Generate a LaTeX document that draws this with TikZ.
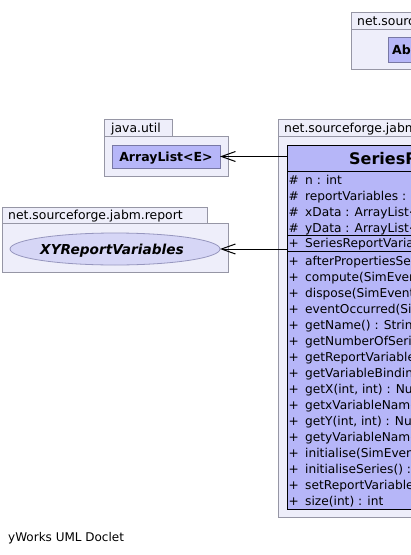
\documentclass[tikz,border=0pt]{standalone}
\usepackage{fontspec}
\setmainfont{DejaVu Sans}[ItalicFont={DejaVu Sans Oblique},BoldFont={DejaVu Sans Bold},BoldItalicFont={DejaVu Sans Bold Oblique}]
\usetikzlibrary{arrows.meta,shapes.geometric}
\definecolor{pkgfill}{RGB}{238,238,250}
\definecolor{pkgline}{RGB}{150,150,165}
\definecolor{clsfill}{RGB}{182,182,248}
\definecolor{boxline}{RGB}{120,120,165}
\definecolor{ellfill}{RGB}{214,214,246}
\definecolor{ellline}{RGB}{150,150,190}
\tikzset{
  pkgbox/.style={draw=pkgline, fill=pkgfill, line width=0.8pt, anchor=north west, inner sep=0pt, outer sep=0pt},
  pkglbl/.style={anchor=base west, inner sep=0pt, font=\fontsize{12.4}{14}\selectfont},
  refbox/.style={draw=boxline, fill=clsfill, line width=0.8pt, anchor=north west, inner sep=0pt, outer sep=0pt},
  clsbox/.style={draw=black, fill=clsfill, line width=0.9pt, anchor=north west, inner sep=0pt, outer sep=0pt},
  reftxt/.style={inner sep=0pt, font=\fontsize{12.5}{14}\selectfont\bfseries},
  memsym/.style={anchor=base west, inner sep=0pt, font=\fontsize{12.2}{14}\selectfont},
  memtxt/.style={anchor=base west, inner sep=0pt, font=\fontsize{12.2}{14}\selectfont},
  sepline/.style={draw=black, line width=0.9pt},
  assoc/.style={draw=black, line width=1pt, -{Straight Barb[length=14pt,width=10pt,line width=1pt]}}
}
\newcommand\mymem[4]{\node[memsym] (s#1) at (288.5,#2+4.3) {#3}; \node[memtxt] (t#1) at (305,#2+4.3) {#4};}
\begin{document}
\begin{tikzpicture}[x=1pt,y=-1pt]
\useasboundingbox (0,0) rectangle (411,555);
\clip (0,0) rectangle (411,555);
\fill[white] (0,0) rectangle (411,555);

% top package (clipped)
\node[pkgbox, minimum width=90pt, minimum height=17pt] (toptab) at (351,12) {};
\node[pkgbox, minimum width=120pt, minimum height=40pt] (topbody) at (351,29) {};
\node[pkglbl] (toplbl) at (357,25) {net.sourceforge.jabm.report};
\node[refbox, minimum width=150pt, minimum height=25pt] (abs) at (388,37) {};
\node[reftxt, anchor=base west] (abstxt) at (392,54) {AbstractReportVariables};

% java.util package
\node[pkgbox, minimum width=68pt, minimum height=17pt] (jutab) at (104,119) {};
\node[pkgbox, minimum width=124pt, minimum height=40pt] (jubody) at (104,136) {};
\node[pkglbl] (julbl) at (111,132) {java.util};
\node[refbox, minimum width=108pt, minimum height=23pt] (al) at (112,145) {};
\node[reftxt, anchor=base] (altxt) at (166,161) {ArrayList<E>};

% left package
\node[pkgbox, minimum width=205pt, minimum height=16pt] (lftab) at (2,207) {};
\node[pkgbox, minimum width=226pt, minimum height=49pt] (lfbody) at (2,223) {};
\node[pkglbl] (lflbl) at (8,219.5) {net.sourceforge.jabm.report};
\node[ellipse, draw=ellline, fill=ellfill, line width=0.8pt, minimum width=210pt, minimum height=32pt, inner sep=0pt, outer sep=0pt] (xy) at (115,249) {};
\node[inner sep=0pt, anchor=base, font=\fontsize{13.7}{15}\selectfont\bfseries\itshape] (xytxt) at (112,254) {XYReportVariables};

% main package
\node[pkgbox, minimum width=160pt, minimum height=17pt] (mntab) at (278,119) {};
\node[pkgbox, minimum width=200pt, minimum height=381pt] (mnbody) at (278,136) {};
\node[pkglbl] (mnlbl) at (284,132) {net.sourceforge.jabm.report};

% class
\node[clsbox, minimum width=340pt, minimum height=364pt] (cls) at (287,145) {};
\node[inner sep=0pt, anchor=base west, font=\fontsize{16}{18}\selectfont\bfseries] (clsname) at (349,164) {SeriesReportVariables};
\draw[sepline] (287,171) -- (627,171);
\draw[sepline] (287,235.5) -- (627,235.5);
\draw[sepline] (287,251.5) -- (627,251.5);

\mymem{a1}{180.5}{\#}{n : int}
\mymem{a2}{196.3}{\#}{reportVariables : XYReportVariables}
\mymem{a3}{212.1}{\#}{xData : ArrayList<ArrayList<Number>{}>}
\mymem{a4}{227.9}{\#}{yData : ArrayList<ArrayList<Number>{}>}
\mymem{c1}{243.5}{+}{SeriesReportVariables(XYReportVariables)}
\mymem{m1}{261}{+}{afterPropertiesSet() : void}
\mymem{m2}{277}{+}{compute(SimEvent) : void}
\mymem{m3}{293}{+}{dispose(SimEvent) : void}
\mymem{m4}{309}{+}{eventOccurred(SimEvent) : void}
\mymem{m5}{325}{+}{getName() : String}
\mymem{m6}{341}{+}{getNumberOfSeries() : int}
\mymem{m7}{357}{+}{getReportVariables() : XYReportVariables}
\mymem{m8}{373}{+}{getVariableBindings() : Map}
\mymem{m9}{389}{+}{getX(int, int) : Number}
\mymem{m10}{405}{+}{getxVariableName(int) : Object}
\mymem{m11}{421}{+}{getY(int, int) : Number}
\mymem{m12}{437}{+}{getyVariableName(int) : Object}
\mymem{m13}{453}{+}{initialise(SimEvent) : void}
\mymem{m14}{469}{+}{initialiseSeries() : void}
\mymem{m15}{485}{+}{setReportVariables(XYReportVariables) : void}
\mymem{m16}{501}{+}{size(int) : int}

% connectors
\draw[assoc] (cls.west |- al.east) -- (al.east);
\draw[assoc] (cls.west |- xy.east) -- (xy.east);

% footer
\node[inner sep=0pt, anchor=base west, font=\fontsize{12}{14}\selectfont] (footer) at (8,541) {yWorks UML Doclet};
\end{tikzpicture}
\end{document}
